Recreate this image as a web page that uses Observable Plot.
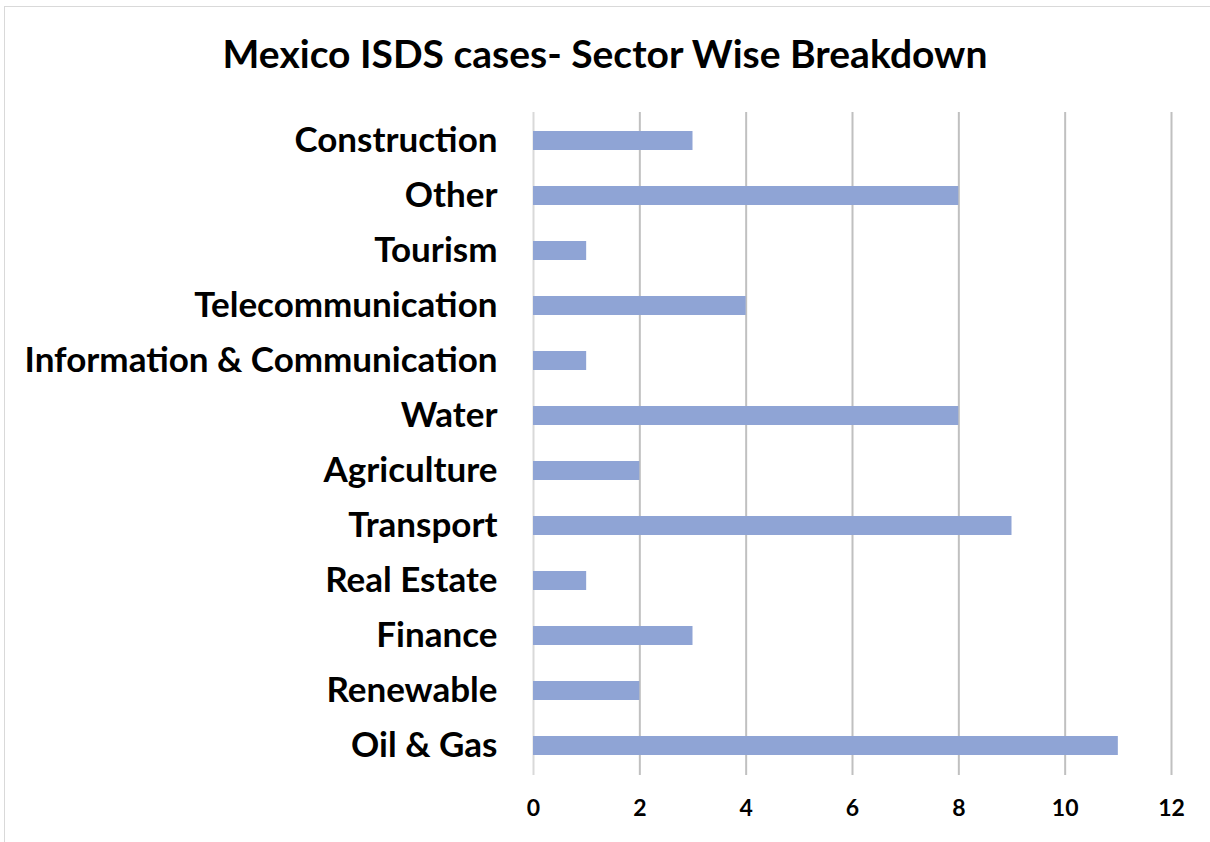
<!DOCTYPE html>
<html>
<head>
<meta charset="utf-8">
<script src="https://cdn.jsdelivr.net/npm/d3@7"></script>
<script src="https://cdn.jsdelivr.net/npm/@observablehq/plot@0.6"></script>
<style>
  html, body { margin: 0; padding: 0; background: #fff; }
  #wrap { position: relative; width: 1210px; height: 842px; overflow: hidden; background: #fff; font-family: Lato, "Open Sans", sans-serif; }
  #frame { position: absolute; left: 4px; top: 6px; width: 1220px; height: 850px; border: 1.5px solid #d9d9d9; box-sizing: border-box; }
  #title { position: absolute; left: 0; top: 0; width: 1210px; height: 112px; text-align: center; font-weight: 700; font-size: 39px; line-height: 106px; color: #000; }
  #chart { position: absolute; left: 0; top: 112px; }
</style>
</head>
<body>
<div id="wrap">
  <div id="frame"></div>
  <div id="title">Mexico ISDS cases- Sector Wise Breakdown</div>
  <div id="chart"></div>
</div>
<script>
const sectors = ["Construction", "Other", "Tourism", "Telecommunication", "Information & Communication", "Water", "Agriculture", "Transport", "Real Estate", "Finance", "Renewable", "Oil & Gas"];
const cases = [3, 8, 1, 4, 1, 8, 2, 9, 1, 3, 2, 11];
const xTicks = [0, 2, 4, 6, 8, 10, 12];

const data = sectors.map((s, i) => ({sector: s, value: cases[i]}));

const plot = Plot.plot({
  width: 1210,
  height: 730,
  marginLeft: 533,
  marginRight: 39,
  marginTop: 0,
  marginBottom: 67,
  style: {fontFamily: "Lato, 'Open Sans', sans-serif", fontWeight: 700, color: "#000", background: "transparent"},
  x: {domain: [0, 12], ticks: xTicks, label: null},
  y: {domain: sectors, paddingInner: 0.65, paddingOuter: 0.325, label: null},
  marks: [
    Plot.ruleX(xTicks.filter(d => d !== 0), {stroke: "#c0c0c0", strokeWidth: 2, strokeOpacity: 1}),
    Plot.ruleX([0], {stroke: "#d9d9d9", strokeWidth: 2, strokeOpacity: 1}),
    Plot.barX(data, {x: "value", y: "sector", fill: "#8fa4d5"}),
    Plot.axisY({tickSize: 0, tickPadding: 36, fontSize: 35, fontWeight: 700, label: null}),
    Plot.axisX({ticks: xTicks, tickSize: 0, tickPadding: 24, fontSize: 23, fontWeight: 700, label: null})
  ]
});
document.getElementById("chart").appendChild(plot);
</script>
</body>
</html>
